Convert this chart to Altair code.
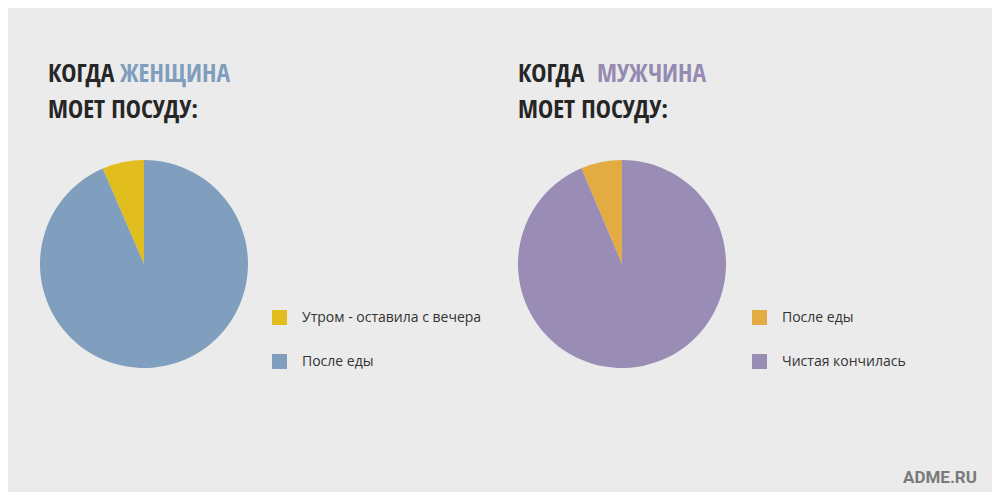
import altair as alt
import pandas as pd

# Data
left_labels = ["Утром - оставила с вечера", "После еды"]
left_values = [6.5, 93.5]
left_colors = ["#e1be1e", "#809fbf"]
left_order = [1, 0]

right_labels = ["После еды", "Чистая кончилась"]
right_values = [6.4, 93.6]
right_colors = ["#e3ac42", "#998db5"]
right_order = [1, 0]

df_left = pd.DataFrame({"label": left_labels, "value": left_values, "ord": left_order})
df_right = pd.DataFrame({"label": right_labels, "value": right_values, "ord": right_order})

W, H = 984, 484
R = 104

def pie(df, labels, colors, cx, cy, lx, ly):
    return alt.Chart(df).mark_arc(radius=R, stroke=None).encode(
        theta=alt.Theta("value:Q", stack=True),
        order=alt.Order("ord:Q"),
        color=alt.Color(
            "label:N",
            scale=alt.Scale(domain=labels, range=colors),
            legend=alt.Legend(
                title=None, orient="none", legendX=lx, legendY=ly,
                symbolType="square", symbolSize=225, symbolStrokeWidth=0,
                symbolOpacity=1,
                labelFont="Open Sans", labelFontSize=14, labelColor="#333333",
                labelOffset=15, rowPadding=29, labelLimit=400,
            ),
        ),
        x=alt.value(cx),
        y=alt.value(cy),
    )

p_left = pie(df_left, left_labels, left_colors, 136, 256, 264, 302)
p_right = pie(df_right, right_labels, right_colors, 614, 256, 744, 302)

TF = "Open Sans Condensed"

def txt(s, x, y, color, size=25.5, font=TF, weight="bold"):
    return alt.Chart(pd.DataFrame({"t": [s]})).mark_text(
        text=s, align="left", baseline="alphabetic", font=font,
        fontSize=size, fontWeight=weight, color=color,
    ).encode(x=alt.value(x), y=alt.value(y))

dark = "#262626"
titles = [
    txt("КОГДА", 40, 74, dark),
    txt("ЖЕНЩИНА", 112, 74, "#7f9dbd"),
    txt("МОЕТ ПОСУДУ:", 40, 110, dark),
    txt("КОГДА", 510, 74, dark),
    txt("МУЖЧИНА", 589, 74, "#958bb2"),
    txt("МОЕТ ПОСУДУ:", 510, 110, dark),
    txt("ADME.RU", 895, 475, "#7a7a7a", size=17, font="Roboto"),
]

chart = alt.layer(p_left, p_right, *titles).resolve_scale(
    color="independent", theta="independent"
).properties(
    width=W, height=H, padding=0, autosize=alt.AutoSizeParams(type="none"),
    background="#ebebeb",
).configure_view(stroke=None)

chart.save("out.html", embed_options={"renderer": "svg", "actions": False})
